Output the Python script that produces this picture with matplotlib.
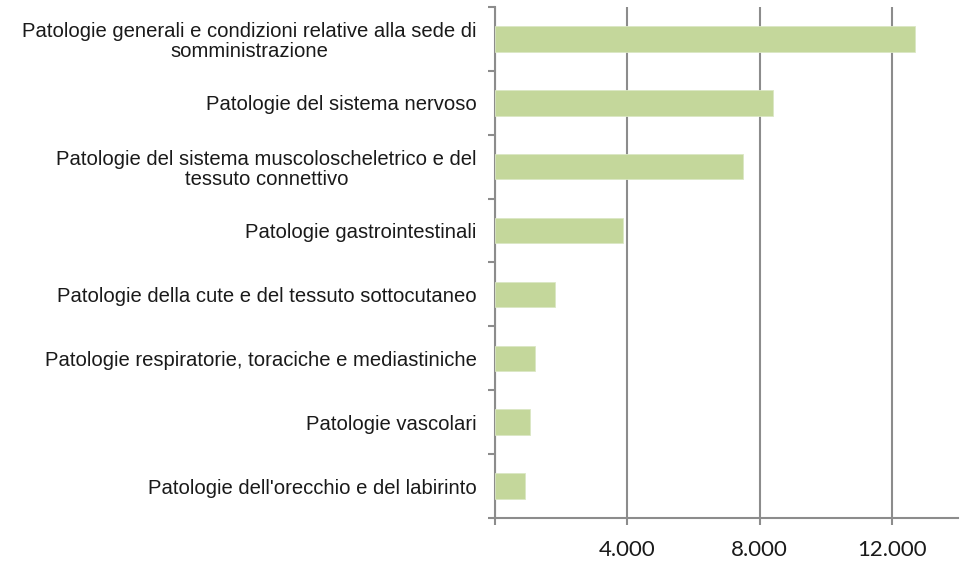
import matplotlib.pyplot as plt
from matplotlib.ticker import FixedLocator

categorie = [
    "Patologie generali e condizioni relative alla sede di\nsomministrazione",
    "Patologie del sistema nervoso",
    "Patologie del sistema muscoloscheletrico e del\ntessuto connettivo",
    "Patologie gastrointestinali",
    "Patologie della cute e del tessuto sottocutaneo",
    "Patologie respiratorie, toraciche e mediastiniche",
    "Patologie vascolari",
    "Patologie dell'orecchio e del labirinto",
]
valori = [12710, 8390, 7510, 3870, 1805, 1210, 1050, 915]
x_ticks = [0, 4000, 8000, 12000]
x_labels = ["", "4.000", "8.000", "12.000"]

grigio = '#8c8c8c'

fig = plt.figure(figsize=(9.61, 5.63), dpi=100)
ax = fig.add_axes([0.515, 0.080, 0.482, 0.9076])

pos = list(range(len(categorie)))
ax.barh(pos, valori, height=0.4, color='#c4d79b', edgecolor='#dbe7c4', linewidth=0.6, zorder=3)

# griglia verticale
ax.set_xlim(0, 14000)
ax.set_xticks(x_ticks)
ax.set_xticklabels(x_labels, fontsize=16, family='Lato', color='#1a1a1a')
ax.grid(axis='x', color=grigio, linewidth=1.5, zorder=0)

# categorie: tacche ai confini, etichette al centro
ax.set_ylim(len(categorie) - 0.5, -0.5)
ax.yaxis.set_major_locator(FixedLocator([p - 0.5 for p in pos] + [len(categorie) - 0.5]))
ax.yaxis.set_major_formatter(plt.NullFormatter())
ax.yaxis.set_minor_locator(FixedLocator(pos))
ax.set_yticklabels(categorie, minor=True, fontsize=14.6, family='Liberation Sans', color='#1a1a1a')
for t in ax.get_yticklabels(minor=True):
    t.set_multialignment('center')
    t.set_linespacing(1.1)

ax.tick_params(axis='y', which='major', length=5, width=1.5, color=grigio)
ax.tick_params(axis='y', which='minor', length=0, pad=13)
ax.tick_params(axis='x', length=5, width=1.5, color=grigio, pad=11)

for lato in ['top', 'right']:
    ax.spines[lato].set_visible(False)
for lato in ['left', 'bottom']:
    ax.spines[lato].set_color(grigio)
    ax.spines[lato].set_linewidth(1.5)

fig.savefig('out.png', dpi=100)
